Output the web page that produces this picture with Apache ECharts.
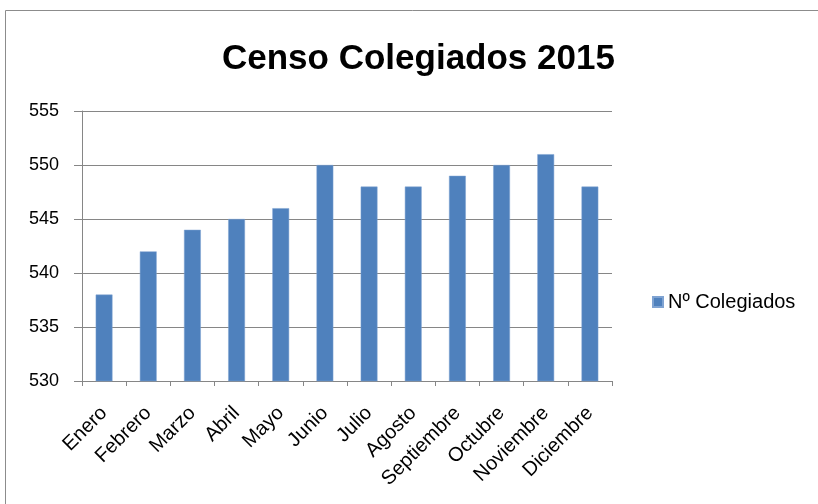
<!DOCTYPE html>
<html>
<head>
<meta charset="utf-8">
<script src="https://cdn.jsdelivr.net/npm/echarts@6/dist/echarts.min.js"></script>
<style>
  html, body { margin: 0; padding: 0; background: #fff; }
  #chart { width: 818px; height: 504px; }
</style>
</head>
<body>
<div id="chart"></div>
<script>
// datos del censo
const months = ["Enero", "Febrero", "Marzo", "Abril", "Mayo", "Junio", "Julio", "Agosto", "Septiembre", "Octubre", "Noviembre", "Diciembre"];
const colegiados = [538, 542, 544, 545, 546, 550, 548, 548, 549, 550, 551, 548];
const seriesName = "Nº Colegiados";
const chartTitle = "Censo Colegiados 2015";

const font = "'Liberation Sans', Arial, sans-serif";
const gray = "#868686";

const chart = echarts.init(document.getElementById("chart"));

const option = {
  animation: false,
  backgroundColor: "#fff",
  title: {
    text: chartTitle,
    left: 217,
    top: 37,
    textStyle: {
      fontFamily: font,
      fontSize: 35,
      fontWeight: "bold",
      color: "#000",
    },
  },
  legend: {
    data: [seriesName],
    left: 647,
    top: 287,
    icon: "rect",
    itemWidth: 10,
    itemHeight: 10,
    textStyle: {
      fontFamily: font,
      fontSize: 20,
      color: "#000",
    },
  },
  grid: {
    left: 82,
    right: 206,
    top: 111,
    bottom: 123,
  },
  xAxis: {
    type: "category",
    data: months,
    axisLine: { lineStyle: { color: gray, width: 1 } },
    axisTick: { show: true, length: 5, lineStyle: { color: gray } },
    axisLabel: {
      rotate: 45,
      interval: 0,
      margin: 29,
      fontFamily: font,
      fontSize: 20,
      color: "#000",
    },
  },
  yAxis: {
    type: "value",
    min: 530,
    max: 555,
    interval: 5,
    axisLine: { show: true, lineStyle: { color: gray, width: 1 } },
    axisTick: { show: true, length: 8, lineStyle: { color: gray } },
    splitLine: { lineStyle: { color: gray, width: 1 } },
    axisLabel: {
      margin: 23,
      fontFamily: font,
      fontSize: 18,
      color: "#000",
    },
  },
  series: [
    {
      name: seriesName,
      type: "bar",
      data: colegiados,
      barWidth: "38%",
      itemStyle: {
        color: "#4F81BD",
        borderColor: "#7FA3D2",
        borderWidth: 0.5,
      },
    },
  ],
  graphic: [
    {
      type: "rect",
      shape: { x: 5.5, y: 10.5, width: 900, height: 600 },
      style: { fill: "none", stroke: "#8c8c8c", lineWidth: 1 },
      silent: true,
    },
  ],
};

chart.setOption(option);
</script>
</body>
</html>
